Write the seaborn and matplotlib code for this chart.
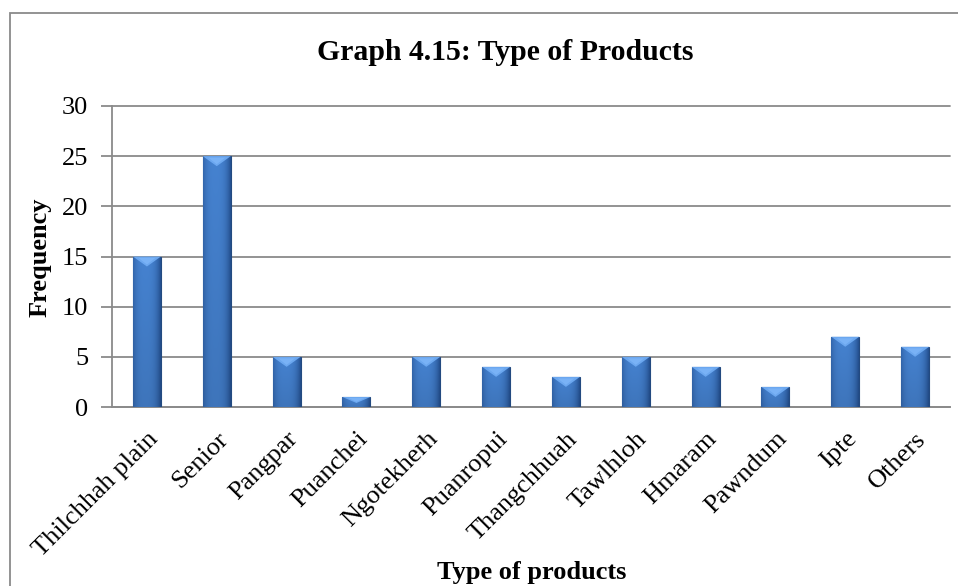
import numpy as np
import matplotlib
matplotlib.use("Agg")
import matplotlib.pyplot as plt
import seaborn as sns
import pandas as pd
from matplotlib.patches import Polygon, Rectangle

# Survey tallies by product type
products = ["Thilchhah plain", "Senior", "Pangpar", "Puanchei", "Ngotekherh",
            "Puanropui", "Thangchhuah", "Tawlhloh", "Hmaram", "Pawndum",
            "Ipte", "Others"]
frequency = [15, 25, 5, 1, 5, 4, 3, 5, 4, 2, 7, 6]
y_ticks = [0, 5, 10, 15, 20, 25, 30]
chart_title = "Graph 4.15: Type of Products"
x_title = "Type of products"
y_title = "Frequency"

sns.set_theme(style="white")
plt.rcParams["font.family"] = ["Liberation Serif", "DejaVu Serif"]
plt.rcParams["text.color"] = "black"
plt.rcParams["xtick.color"] = "black"
plt.rcParams["ytick.color"] = "black"

W, H = 958, 586
fig = plt.figure(figsize=(W / 100, H / 100), dpi=100)
fig.patch.set_facecolor("white")

# chart-area frame (runs off the right and bottom edges)
fig.patches.append(Rectangle((10 / W, -0.1), 1.2, 1.1 - 13 / H,
                             transform=fig.transFigure, fill=False,
                             edgecolor="#8a8a8a", linewidth=1.3, zorder=0))

ax = fig.add_axes([112 / W, 1 - 407 / H, (950 - 112) / W, (407 - 106) / H])
df = pd.DataFrame({"product": products, "freq": frequency})
sns.barplot(data=df, x="product", y="freq", color="#3b73c4", width=0.4,
            saturation=1, ax=ax, zorder=3)

ax.set_ylim(0, 30)
ax.set_xlim(-0.5, len(products) - 0.5)
ax.set_yticks(y_ticks)
ax.set_yticklabels([str(v) for v in y_ticks], fontsize=19, color="black")
ax.set_xticks(range(len(products)))
ax.set_xticklabels(products, fontsize=19, rotation=45, ha="right",
                   va="top", rotation_mode="anchor", color="black")
ax.tick_params(axis="x", length=0, pad=15)
ax.tick_params(axis="y", length=8, width=1.3, color="#8a8a8a", pad=9,
               direction="out", left=True)
ax.yaxis.grid(True, color="#8a8a8a", linewidth=1.3, zorder=0)
for gl in ax.get_ygridlines():
    gl.set_clip_on(False)
ax.set_axisbelow(True)
for side in ("top", "right"):
    ax.spines[side].set_visible(False)
for side in ("left", "bottom"):
    ax.spines[side].set_color("#8a8a8a")
    ax.spines[side].set_linewidth(1.3)
ax.set_xlabel("")
ax.set_ylabel("")

# shaded bar faces: dark sides, lighter centre, bevelled top
fig.canvas.draw()
px_per_unit = ax.transData.transform((0, 1))[1] - ax.transData.transform((0, 0))[1]
bevel = 10 / px_per_unit
nx, ny = 64, 64
t = np.linspace(0, 1, nx)
prof = np.clip(1 - np.abs((t - 0.45) / 0.55) ** 3.0, 0, 1)
edge = np.array([0x24, 0x50, 0x90]) / 255
mid = np.array([0x45, 0x82, 0xd0]) / 255
row = edge[None, :] + (mid - edge)[None, :] * prof[:, None]
v = np.linspace(0.9, 1.0, ny)[:, None, None]
img = np.clip(row[None, :, :] * v, 0, 1)
for p in list(ax.patches):
    x0, w, h = p.get_x(), p.get_width(), p.get_height()
    if h <= 0:
        continue
    p.set_edgecolor("#234a80")
    p.set_linewidth(0.8)
    im = ax.imshow(img, extent=[x0, x0 + w, 0, h], origin="lower",
                   aspect="auto", zorder=3.1, interpolation="bilinear")
    im.set_clip_path(p)
    d = min(bevel, h * 0.6)
    ax.add_patch(Polygon([(x0, h), (x0 + w, h), (x0 + w / 2, h - d)],
                         closed=True, facecolor="#6eaaf2", edgecolor="none",
                         alpha=0.95, zorder=3.2))
    ax.add_patch(Polygon([(x0 + w * 0.2, h - d * 0.15), (x0 + w * 0.8, h - d * 0.15),
                          (x0 + w / 2, h - d * 0.8)],
                         closed=True, facecolor="#8cc0ff", edgecolor="none",
                         alpha=0.45, zorder=3.3))
ax.set_xlim(-0.5, len(products) - 0.5)
ax.set_ylim(0, 30)

fig.text(505 / W, 1 - 53 / H, chart_title, ha="center", va="center",
         fontsize=21.4, fontweight="bold", color="black")
fig.text(532 / W, 1 - 572 / H, x_title, ha="center", va="center",
         fontsize=19, fontweight="bold", color="black")
fig.text(40 / W, 1 - 257 / H, y_title, ha="center", va="center",
         fontsize=19, fontweight="bold", rotation=90, color="black")

fig.savefig("out.png", dpi=100)
